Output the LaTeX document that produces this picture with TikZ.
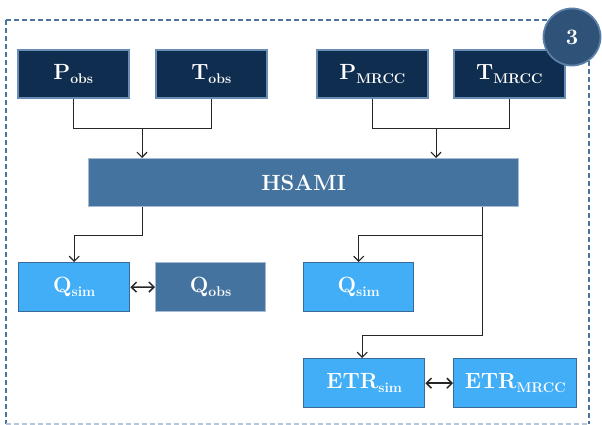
\documentclass[tikz,border=0pt]{standalone}
\usetikzlibrary{arrows.meta}
\definecolor{navy}{HTML}{0F2D4F}
\definecolor{navyedge}{HTML}{6A8DB5}
\definecolor{steel}{HTML}{44739F}
\definecolor{sky}{HTML}{42AEF7}
\definecolor{skyedge}{HTML}{3A6A98}
\definecolor{dashc}{HTML}{4A74A0}
\definecolor{circfill}{HTML}{2F5378}
\definecolor{circedge}{HTML}{5A7EA6}
\newcommand{\subx}[1]{\raisebox{-4pt}{\fontsize{14}{15}\selectfont\bfseries #1}}
\begin{document}
\begin{tikzpicture}[x=1pt,y=1pt,
  lbl/.style={text=white,font=\fontsize{22}{24}\selectfont\bfseries},
  darkbox/.style={lbl,fill=navy,draw=navyedge,line width=1.6pt,minimum width=111pt,minimum height=48pt,anchor=north west,inner sep=0pt},
  steelbox/.style={lbl,fill=steel,draw=navyedge!60,line width=1pt,minimum height=48pt,anchor=north west,inner sep=0pt},
  skybox/.style={lbl,fill=sky,draw=skyedge,line width=1.4pt,minimum height=49pt,anchor=north west,inner sep=0pt},
  conn/.style={draw=black!85,line width=0.9pt},
  arr/.style={conn,-{Straight Barb[length=5pt,width=10pt,line width=1.2pt]}},
  darr/.style={conn,line width=1.5pt,{Straight Barb[length=5pt,width=10pt]}-{Straight Barb[length=5pt,width=10pt]}}
]
\useasboundingbox (0,0) rectangle (602,-425);
\fill[white] (0,0) rectangle (602,-425);
% dashed frame
\draw[dashc,line width=1.5pt,dash pattern=on 5pt off 3pt] (6,-20) -- (589,-20) -- (589,-424);
\draw[dashc,line width=1.5pt,dash pattern=on 5pt off 3pt] (6,-20) -- (6,-424);
\draw[dashc!40,line width=1.2pt,dash pattern=on 5pt off 3pt] (6,-424) -- (589,-424);
% top boxes
\node[darkbox] (pobs) at (17,-49) {P\subx{obs}};
\node[darkbox] (tobs) at (155,-49) {T\subx{obs}};
\node[darkbox] (pmrcc) at (316,-49) {P\subx{MRCC}};
\node[darkbox] (tmrcc) at (453,-49) {T\subx{MRCC}};
% circle
\node[circle,fill=circfill,draw=circedge,line width=1.8pt,minimum size=57pt,lbl] (num) at (572,-37) {3};
% HSAMI
\node[steelbox,minimum width=430pt] (hsami) at (88,-158) {HSAMI};
% outputs
\node[skybox,minimum width=111pt] (qsim1) at (18,-262) {Q\subx{sim}};
\node[steelbox,minimum width=110pt,minimum height=49pt] (qobs) at (155,-262) {Q\subx{obs}};
\node[skybox,minimum width=110pt] (qsim2) at (303,-262) {Q\subx{sim}};
\node[skybox,minimum width=121pt] (etrsim) at (303,-358) {ETR\subx{sim}};
\node[skybox,minimum width=123pt] (etrmrcc) at (453,-358) {ETR\subx{MRCC}};
% connectors to HSAMI
\coordinate (j1) at (142,-128);
\coordinate (j2) at (436,-128);
\draw[conn] (pobs.south) |- (tobs.south |- j1) -- (tobs.south);
\draw[arr] (j1) -- (j1 |- hsami.north);
\draw[conn] (pmrcc.south) |- (tmrcc.south |- j2) -- (tmrcc.south);
\draw[arr] (j2) -- (j2 |- hsami.north);
% from HSAMI
\coordinate (h1) at (142,-207);
\coordinate (h2) at (482,-207);
\coordinate (k1) at (142,-235);
\coordinate (k2) at (482,-235);
\coordinate (k3) at (482,-335);
\draw[arr] (h1) -- (k1) -| (qsim1.north);
\draw[arr] (h2) -- (k2) -| (qsim2.north);
\draw[arr] (k2) -- (k3) -| ([xshift=-2pt]etrsim.north);
% double arrows
\draw[darr] (qsim1.east) -- (qobs.west);
\draw[darr] (etrsim.east) -- (etrmrcc.west);
\end{tikzpicture}
\end{document}
